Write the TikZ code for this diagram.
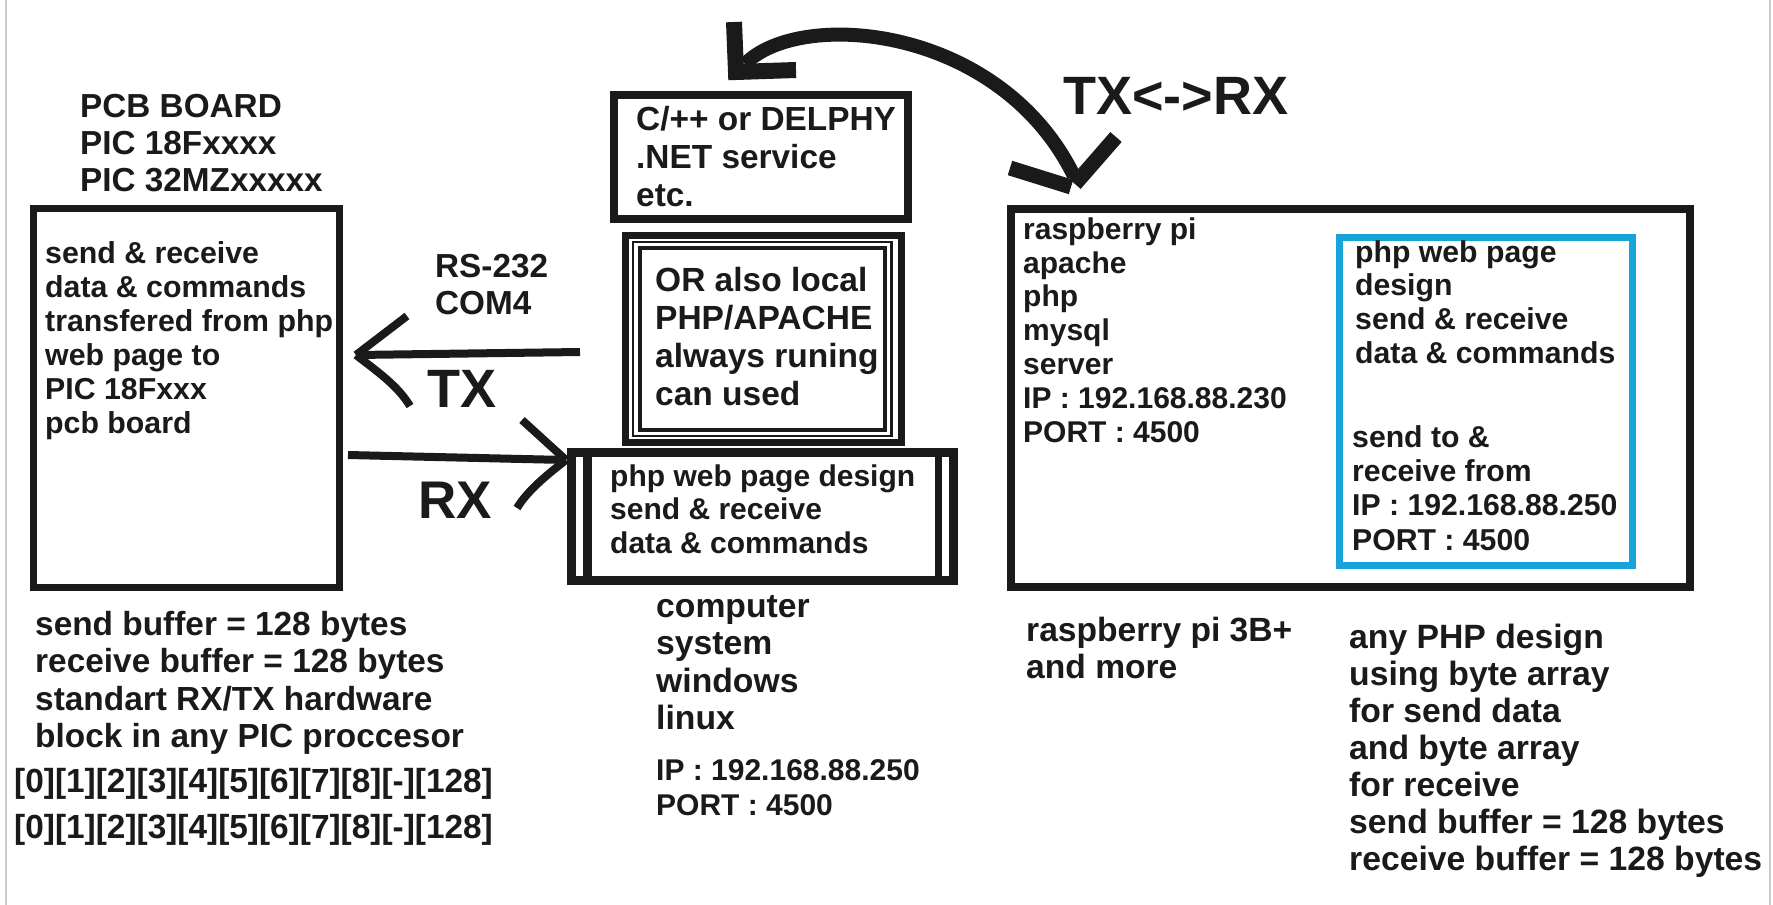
\documentclass[tikz,border=0pt]{standalone}
\usepackage{fontspec}
\setmainfont{Liberation Sans}
\newcommand\myfs[2]{\fontsize{#1pt}{#2pt}\selectfont}
\newcommand\mystrut{\rule{0pt}{0.8em}}
\definecolor{ink}{HTML}{1A1A1A}
\definecolor{cyanbox}{HTML}{19A3DB}
\begin{document}
\begin{tikzpicture}[x=1pt, y=-1pt,
  box/.style={draw=ink, rectangle, inner sep=0pt},
  tx/.style={anchor=north west, inner sep=0pt, align=left, text=ink},
  big/.style={anchor=base west, inner sep=0pt, text=ink},
  stroke/.style={draw=ink, line width=8pt},
  heavy/.style={draw=ink, line width=14pt},
  bar/.style={draw=ink, line width=16pt}]
\useasboundingbox (0,0) rectangle (1773,905);
\fill[white] (0,0) rectangle (1773,905);
\draw[gray!40, line width=1.5pt] (6,0) -- (6,905);
\draw[gray!40, line width=1.5pt] (1770,0) -- (1770,905);

% ---------------- boxes ----------------
\node[box, line width=7pt, minimum width=306pt, minimum height=379pt] (pcb) at (186,397.5) {};
\node[box, line width=8pt, minimum width=294pt, minimum height=124pt] (cpp) at (761,157) {};
\node[box, line width=7pt, minimum width=276pt, minimum height=207.5pt] (orout) at (763,338.75) {};
\node[box, line width=2.5pt, minimum width=258.5pt, minimum height=194pt] (ormid) at (762.25,339) {};
\node[box, line width=4pt, minimum width=245pt, minimum height=182.5pt] (orin) at (762.5,338.75) {};
\node[box, line width=9pt, minimum width=382pt, minimum height=127.5pt] (php) at (762.5,516.25) {};
\coordinate (phpLT) at (587.5,452.5);
\coordinate (phpLB) at (587.5,580);
\coordinate (phpRT) at (938.5,452.5);
\coordinate (phpRB) at (938.5,580);
\draw[draw=ink, line width=9pt] (phpLT) -- (phpLB);
\draw[draw=ink, line width=7pt] (phpRT) -- (phpRB);
\node[box, line width=8pt, minimum width=679pt, minimum height=378pt] (rpi) at (1350.5,398) {};
\node[box, draw=cyanbox, line width=7pt, minimum width=293pt, minimum height=328pt] (web) at (1486,401.5) {};

% ---------------- texts ----------------
\node[tx, font=\bfseries\myfs{33.3}{37}] (pcbl) at (80,90.4) {\mystrut PCB BOARD\\PIC 18Fxxxx\\PIC 32MZxxxxx};
\node[tx, font=\bfseries\myfs{30.3}{34}] (pcbt) at (45,238.8) {\mystrut send \& receive\\data \& commands\\transfered from php\\web page to\\PIC 18Fxxx\\pcb board};
\node[tx, font=\bfseries\myfs{33.3}{37}] (rs) at (435,250.4) {\mystrut RS-232\\COM4};
\node[big, font=\bfseries\myfs{54}{60}] (txl) at (427,407) {TX};
\node[big, font=\bfseries\myfs{53}{60}] (rxl) at (418,518) {RX};
\node[tx, font=\bfseries\myfs{33.4}{38}] (cppt) at (636,103.3) {\mystrut C/++ or DELPHY\\.NET service\\etc.};
\node[tx, font=\bfseries\myfs{33.5}{38}] (ort) at (655,264.2) {\mystrut OR also local\\PHP/APACHE\\always runing\\can used};
\node[tx, font=\bfseries\myfs{30}{33.5}] (phpt) at (610,462) {\mystrut php web page design\\send \& receive\\data \& commands};
\node[tx, font=\bfseries\myfs{30}{33.8}] (rpit) at (1023,215) {\mystrut raspberry pi\\apache\\php\\mysql\\server\\IP : 192.168.88.230\\PORT : 4500};
\node[tx, font=\bfseries\myfs{30.2}{33.8}] (webt1) at (1355,237.8) {\mystrut php web page\\design\\send \& receive\\data \& commands};
\node[tx, font=\bfseries\myfs{30.2}{34.3}] (webt2) at (1352,422.8) {\mystrut send to \&\\receive from\\IP : 192.168.88.250\\PORT : 4500};
\node[tx, font=\bfseries\myfs{33.4}{37.5}] (buf) at (35,608.3) {\mystrut send buffer = 128 bytes\\receive buffer = 128 bytes\\standart RX/TX hardware\\block in any PIC proccesor};
\node[tx, font=\bfseries\myfs{33.4}{46}] (arr) at (14,765.3) {\mystrut [0][1][2][3][4][5][6][7][8][-][128]\\{}[0][1][2][3][4][5][6][7][8][-][128]};
\node[tx, font=\bfseries\myfs{33.7}{37.5}] (comp) at (656,590) {\mystrut computer\\system\\windows\\linux};
\node[tx, font=\bfseries\myfs{30}{35}] (compip) at (656,756) {\mystrut IP : 192.168.88.250\\PORT : 4500};
\node[tx, font=\bfseries\myfs{33.6}{37}] (rpil) at (1026,614.1) {\mystrut raspberry pi 3B+\\and more};
\node[tx, font=\bfseries\myfs{33.7}{37}] (anyphp) at (1349,621) {\mystrut any PHP design\\using byte array\\for send data\\and byte array\\for receive\\send buffer = 128 bytes\\receive buffer = 128 bytes};
\node[big, font=\bfseries\myfs{54}{60}] (txrx) at (1063,114) {TX<->RX};

% ---------------- TX arrow (to PCB) ----------------
\coordinate (txA) at (580,352);
\coordinate (txT) at (356,355);
\coordinate (txU) at (407,316);
\coordinate (txL) at (410,406);
\draw[stroke] (txA) -- (txT);
\draw[stroke] (txT) -- (txU);
\draw[stroke] (txT) .. controls (378,372) and (398,386) .. (txL);

% ---------------- RX arrow (to php box) ----------------
\coordinate (rxA) at (348,455);
\coordinate (rxT) at (566,460);
\coordinate (rxU) at (522,420);
\coordinate (rxL) at (517,508);
\draw[stroke] (rxA) -- (rxT);
\draw[stroke] (rxU) -- (rxT);
\draw[stroke] (rxT) .. controls (548,474) and (528,490) .. (rxL);

% ---------------- curved TX<->RX arrow ----------------
\coordinate (cA) at (745,64);
\coordinate (cB) at (1074,176);
\draw[heavy] (cA) .. controls (800,8) and (1000,25) .. (cB);
\coordinate (lU) at (734,22);
\coordinate (lC) at (736,72);
\coordinate (lR) at (796,70);
\draw[bar, miter limit=4] (lU) -- (lC) -- (lR);
\coordinate (vA) at (1010,168);
\coordinate (vB) at (1071,187);
\coordinate (vC) at (1075,184);
\coordinate (vD) at (1116,137);
\draw[draw=ink, line width=15pt] (vA) -- (vB);
\draw[draw=ink, line width=15pt] (vC) -- (vD);
\end{tikzpicture}
\end{document}
